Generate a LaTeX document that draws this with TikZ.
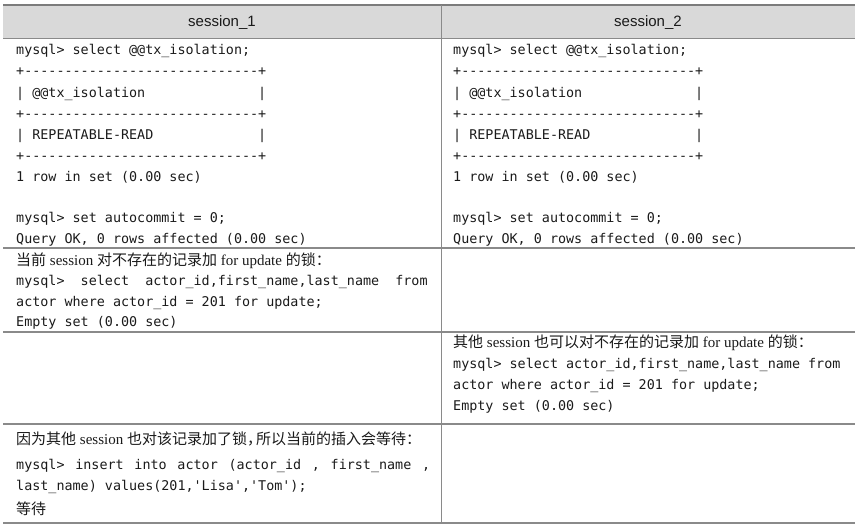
\documentclass[tikz,border=0pt]{standalone}
\usepackage{fontspec}
\setmainfont{Liberation Serif}
\setmonofont{DejaVu Sans Mono}
\newfontfamily\cjk{Noto Sans CJK SC}
\newfontfamily\hdr{Liberation Sans}
\definecolor{rule}{HTML}{8A8A8A}
\definecolor{hdrbg}{HTML}{D9D9D9}
\definecolor{ink}{HTML}{1A1A1A}
\tikzset{
  code/.style={anchor=base west, inner sep=0pt, text=ink, font=\ttfamily\fontsize{13.4bp}{16bp}\selectfont},
  zh/.style={anchor=base west, inner sep=0pt, text=ink, font=\rmfamily\fontsize{15bp}{18bp}\selectfont},
  head/.style={anchor=base, inner sep=0pt, text=ink, font=\hdr\fontsize{15bp}{18bp}\selectfont},
  rowline/.style={draw=rule, line width=1.2bp},
}
\begin{document}
\begin{tikzpicture}[x=1bp,y=-1bp]
\useasboundingbox (0,0) rectangle (859,530);
% header
\fill[hdrbg] (3,5) rectangle (855,38);
\draw[draw=rule!90!black, line width=2bp] (3,5) -- (855,5);
\draw[rowline] (3,38.5) -- (855,38.5);
\draw[rowline] (3,248) -- (855,248);
\draw[rowline] (3,332) -- (855,332);
\draw[rowline] (3,424) -- (855,424);
\draw[rowline] (3,523) -- (855,523);
\draw[rowline] (441.5,5) -- (441.5,523);
\node[head] (h1) at (222,26.5) {session\_1};
\node[head] (h2) at (648,26.5) {session\_2};
% left column, row 1
\node[code] (a1) at (16,55) {mysql>~select~@@tx\_isolation;};
\node[code] (a2) at (16,76) {+-----------------------------+};
\node[code] (a3) at (16,97.5) {|~@@tx\_isolation~~~~~~~~~~~~~~|};
\node[code] (a4) at (16,118.5) {+-----------------------------+};
\node[code] (a5) at (16,139.5) {|~REPEATABLE-READ~~~~~~~~~~~~~|};
\node[code] (a6) at (16,160.5) {+-----------------------------+};
\node[code] (a7) at (16,181.5) {1~row~in~set~(0.00~sec)};
\node[code] (a8) at (16,222.5) {mysql>~set~autocommit~=~0;};
\node[code] (a9) at (16,243.5) {Query~OK,~0~rows~affected~(0.00~sec)};
% right column, row 1
\node[code] (b1) at (453,55) {mysql>~select~@@tx\_isolation;};
\node[code] (b2) at (453,76) {+-----------------------------+};
\node[code] (b3) at (453,97.5) {|~@@tx\_isolation~~~~~~~~~~~~~~|};
\node[code] (b4) at (453,118.5) {+-----------------------------+};
\node[code] (b5) at (453,139.5) {|~REPEATABLE-READ~~~~~~~~~~~~~|};
\node[code] (b6) at (453,160.5) {+-----------------------------+};
\node[code] (b7) at (453,181.5) {1~row~in~set~(0.00~sec)};
\node[code] (b8) at (453,222.5) {mysql>~set~autocommit~=~0;};
\node[code] (b9) at (453,243.5) {Query~OK,~0~rows~affected~(0.00~sec)};
% left column, row 2
\node[zh] (c1) at (16,265.5) {{\cjk 当前} session {\cjk 对不存在的记录加} for update {\cjk 的锁：}};
\node[code] (c2) at (16,285.5) {mysql>~~select~~actor\_id,first\_name,last\_name~~from};
\node[code] (c3) at (16,306.5) {actor~where~actor\_id~=~201~for~update;};
\node[code] (c4) at (16,326.5) {Empty~set~(0.00~sec)};
% right column, row 3
\node[zh] (d1) at (453,347.5) {{\cjk 其他} session {\cjk 也可以对不存在的记录加} for update {\cjk 的锁：}};
\node[code] (d2) at (453,368.5) {mysql>~select~actor\_id,first\_name,last\_name~from};
\node[code] (d3) at (453,389.5) {actor~where~actor\_id~=~201~for~update;};
\node[code] (d4) at (453,410.5) {Empty~set~(0.00~sec)};
% left column, row 4
\node[zh] (e1) at (16,444.5) {{\cjk 因为其他} session {\cjk 也对该记录加了锁，\kern-6bp 所以当前的插入会等待：}};
\node[code] (e2) at (16,469.5) {\makebox[414bp][l]{mysql>~\hfill insert~\hfill into~\hfill actor~\hfill (actor\_id~\hfill ,~\hfill first\_name~\hfill ,}};
\node[code] (e3) at (16,490.5) {last\_name)~values(201,'Lisa','Tom');};
\node[zh] (e4) at (16,514.5) {\cjk 等待};
\end{tikzpicture}
\end{document}
